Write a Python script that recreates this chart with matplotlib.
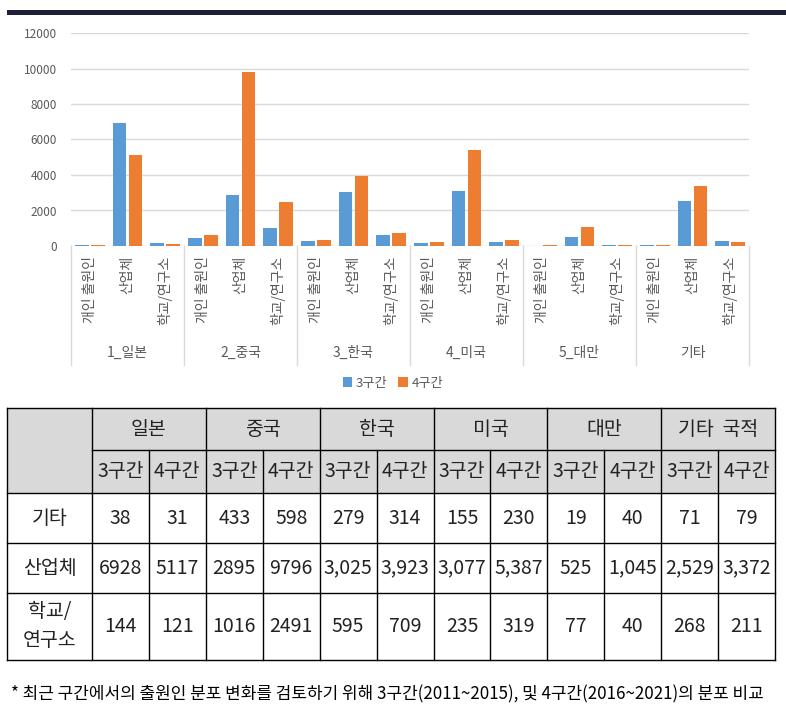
import matplotlib
matplotlib.use('Agg')
import matplotlib.pyplot as plt
from matplotlib.patches import Rectangle
import numpy as np

plt.rcParams['font.family'] = ['Noto Sans CJK KR', 'DejaVu Sans']

# data
countries = ['일본', '중국', '한국', '미국', '대만', '기타 국적']
group_labels = ['1_일본', '2_중국', '3_한국', '4_미국', '5_대만', '기타']
applicants = ['개인 출원인', '산업체', '학교/연구소']
row_labels = ['기타', '산업체', '학교/\n연구소']
periods = ['3구간', '4구간']

p3_individual = [38, 433, 279, 155, 19, 71]
p4_individual = [31, 598, 314, 230, 40, 79]
p3_industry = [6928, 2895, 3025, 3077, 525, 2529]
p4_industry = [5117, 9796, 3923, 5387, 1045, 3372]
p3_school = [144, 1016, 595, 235, 77, 268]
p4_school = [121, 2491, 709, 319, 40, 211]

footnote = '* 최근 구간에서의 출원인 분포 변화를 검토하기 위해 3구간(2011~2015), 및 4구간(2016~2021)의 분포 비교'

blue = '#5b9bd5'
orange = '#ed7d31'
grid_c = '#d9d9d9'
text_c = '#595959'

W, H = 786, 725
fig = plt.figure(figsize=(W / 100, H / 100), dpi=100)

# overlay axes in pixel coordinates for table, top bar and footnote
ov = fig.add_axes([0, 0, 1, 1])
ov.set_xlim(0, W)
ov.set_ylim(H, 0)
ov.axis('off')

ov.add_patch(Rectangle((7, 10), W - 7, 5, color='#1f1f3d', lw=0))

# ---- bar chart ----
left, right, y0, y12 = 71, 749, 246, 33
ax = fig.add_axes([left / W, (H - y0) / H, (right - left) / W, (y0 - y12) / H])

s3 = np.array([p3_individual, p3_industry, p3_school]).T.ravel()
s4 = np.array([p4_individual, p4_industry, p4_school]).T.ravel()
x = np.arange(len(s3))
ax.bar(x - 0.21, s3, width=0.36, color=blue, label=periods[0], zorder=3)
ax.bar(x + 0.21, s4, width=0.36, color=orange, label=periods[1], zorder=3)

ax.set_xlim(-0.5, len(x) - 0.5)
ax.set_ylim(0, 12000)
ax.set_yticks(np.arange(0, 12001, 2000))
ax.yaxis.grid(True, color=grid_c, lw=1, zorder=0)
for s in ax.spines.values():
    s.set_visible(False)
ax.tick_params(axis='y', length=0, labelsize=8.5, labelcolor=text_c, pad=10)
for t in ax.get_yticklabels():
    t.set_fontweight('medium')
ax.set_xticks(x)
ax.set_xticklabels(applicants * len(countries), rotation=90, va='top', ha='center')
ax.tick_params(axis='x', length=0, labelsize=10, labelcolor=text_c, pad=7)

trans = ax.get_xaxis_transform()
depth = -(365 - y0) / (y0 - y12)
for b in np.arange(-0.5, len(x), 3):
    ax.plot([b, b], [0, depth], color=grid_c, lw=1, transform=trans, clip_on=False)
for g, lab in enumerate(group_labels):
    ax.text(g * 3 + 1, -(353 - y0) / (y0 - y12), lab, transform=trans,
            ha='center', va='center', fontsize=10, color=text_c)

fig.legend(loc='center', bbox_to_anchor=(393 / W, 1 - 383 / H), ncol=2, frameon=False,
           fontsize=9.5, labelcolor=text_c, handlelength=0.7, handleheight=0.7,
           handletextpad=0.3, columnspacing=0.8)

# ---- table ----
col_x = [7, 92] + [92 + (775 - 92) / 12 * (i + 1) for i in range(12)]
row_y = [408, 450, 493, 543, 593, 660]

ov.add_patch(Rectangle((col_x[0], row_y[0]), col_x[-1] - col_x[0], row_y[2] - row_y[0],
                       facecolor='#d9d9d9', lw=0))
lw = 1
ov.plot([col_x[0], col_x[-1]], [row_y[0]] * 2, color='black', lw=lw)
ov.plot([col_x[1], col_x[-1]], [row_y[1]] * 2, color='black', lw=lw)
for yy in row_y[2:]:
    ov.plot([col_x[0], col_x[-1]], [yy] * 2, color='black', lw=lw)
for i, xx in enumerate(col_x):
    top = row_y[0] if (i - 1) % 2 == 0 or i in (0, len(col_x) - 1) else row_y[1]
    ov.plot([xx, xx], [top, row_y[-1]], color='black', lw=lw)

fs = 14
for g, name in enumerate(countries):
    cx = (col_x[1 + 2 * g] + col_x[3 + 2 * g]) / 2
    ov.text(cx, (row_y[0] + row_y[1]) / 2, name.replace(' ', '  '), ha='center', va='center',
            fontsize=fs, color='#222222')
    for k in range(2):
        ov.text((col_x[1 + 2 * g + k] + col_x[2 + 2 * g + k]) / 2, (row_y[1] + row_y[2]) / 2,
                periods[k], ha='center', va='center', fontsize=fs, color='#222222')

rows = [(p3_individual, p4_individual), (p3_industry, p4_industry), (p3_school, p4_school)]
for r, (a, b) in enumerate(rows):
    cy = (row_y[2 + r] + row_y[3 + r]) / 2
    ov.text((col_x[0] + col_x[1]) / 2, cy, row_labels[r], ha='center', va='center',
            fontsize=fs, color='#222222', linespacing=1.5)
    for g in range(len(countries)):
        for k, v in enumerate((a[g], b[g])):
            s = f'{v:,}' if (r == 1 and g >= 2) else str(v)
            ov.text((col_x[1 + 2 * g + k] + col_x[2 + 2 * g + k]) / 2, cy, s,
                    ha='center', va='center', fontsize=fs, color='#222222')

ov.text(11, 694, footnote, ha='left', va='center', fontsize=12.2, color='black')

fig.savefig('out.png', dpi=100)
